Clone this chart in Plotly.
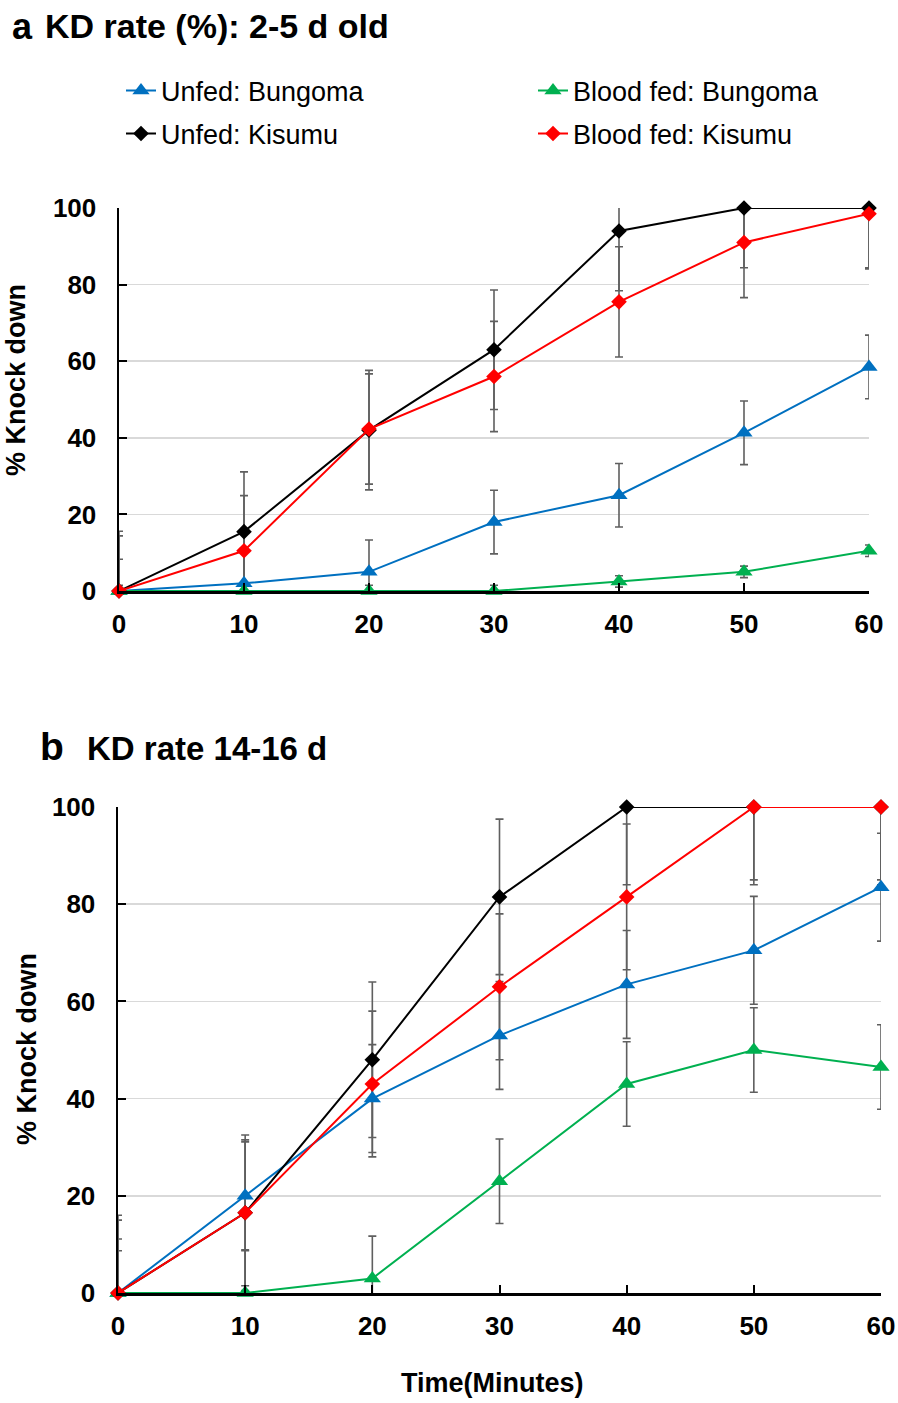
import plotly.graph_objects as go

W, H = 898, 1403

time_min = [0, 10, 20, 30, 40, 50, 60]

# Panel a: 2-5 d old
a_unfed_bungoma = [0, 2, 5, 18, 25, 41.3, 58.5]
a_fed_bungoma = [0, 0, 0, 0, 2.5, 5, 10.5]
a_unfed_kisumu = [0, 15.5, 42, 63, 94, 100, 100]
a_fed_kisumu = [0, 10.5, 42.3, 56, 75.5, 91, 98.5]
a_err_unfed_bungoma = [8.3] * 7
a_err_fed_bungoma = [1.5] * 7
a_err_unfed_kisumu = [15.6] * 7
a_err_fed_kisumu = [14.4] * 7

# Panel b: 14-16 d old
b_unfed_bungoma = [0, 20, 40, 53, 63.5, 70.5, 83.5]
b_fed_bungoma = [0, 0, 3, 23, 43, 50, 46.5]
b_unfed_kisumu = [0, 16.5, 48, 81.5, 100, 100, 100]
b_fed_kisumu = [0, 16.5, 43, 63, 81.5, 100, 100]
b_err_unfed_bungoma = [11.1] * 7
b_err_fed_bungoma = [8.7] * 7
b_err_unfed_kisumu = [16.0] * 7
b_err_fed_kisumu = [15.0] * 7

series_names = ["Unfed: Bungoma", "Blood fed: Bungoma", "Unfed: Kisumu", "Blood fed: Kisumu"]
colors = ["#0070C0", "#00B050", "#000000", "#FF0000"]
symbols = ["triangle-up", "triangle-up", "diamond", "diamond"]
sizes = [15, 15, 12, 12]
legend_ids = ["legend", "legend2", "legend3", "legend4"]

FONT = "Liberation Sans, Arial, sans-serif"
ERR_COLOR = "#5F5F5F"

fig = go.Figure()

panels = [
    ("x", "y", [a_unfed_bungoma, a_fed_bungoma, a_unfed_kisumu, a_fed_kisumu],
     [a_err_unfed_bungoma, a_err_fed_bungoma, a_err_unfed_kisumu, a_err_fed_kisumu], True),
    ("x2", "y2", [b_unfed_bungoma, b_fed_bungoma, b_unfed_kisumu, b_fed_kisumu],
     [b_err_unfed_bungoma, b_err_fed_bungoma, b_err_unfed_kisumu, b_err_fed_kisumu], False),
]

for xa, ya, vals, errs, show in panels:
    # error bars first (clipped to the plot area)
    for i in range(4):
        fig.add_trace(go.Scatter(
            x=time_min, y=vals[i], mode="markers", xaxis=xa, yaxis=ya,
            marker=dict(size=1, opacity=0),
            error_y=dict(type="data", array=errs[i], visible=True,
                         color=ERR_COLOR, thickness=1.6, width=4),
            showlegend=False, hoverinfo="skip", cliponaxis=True))
    for i in range(4):
        fig.add_trace(go.Scatter(
            x=time_min, y=vals[i], mode="lines+markers", xaxis=xa, yaxis=ya,
            name=series_names[i],
            line=dict(color=colors[i], width=2),
            marker=dict(symbol=symbols[i], size=sizes[i], color=colors[i]),
            showlegend=show, legend=legend_ids[i], cliponaxis=False))


def px_x(p):
    return p / W


def px_y(p):
    return 1 - p / H


TICKFONT = dict(family=FONT, size=26, color="black", weight="bold")
axis_common = dict(
    range=[0, 60], tickvals=time_min, ticks="inside", ticklen=8, tickwidth=2,
    tickcolor="black", showline=True, linecolor="black", linewidth=2.5,
    showgrid=False, zeroline=False, tickfont=TICKFONT, ticklabelstandoff=8,
    automargin=False,
)
yaxis_common = dict(
    range=[0, 100], tickvals=[0, 20, 40, 60, 80, 100], ticks="inside", ticklen=8,
    tickwidth=2, tickcolor="black", showline=True, linecolor="black", linewidth=2.5,
    showgrid=True, gridcolor="#D9D9D9", gridwidth=1.5, zeroline=False,
    tickfont=TICKFONT, ticklabelstandoff=15, automargin=False,
)

LEGFONT = dict(family=FONT, size=27, color="black")
leg_pos = {  # (left px, row center px)
    "legend": (121, 91), "legend2": (533, 91),
    "legend3": (121, 134), "legend4": (533, 134),
}
leg_layout = {}
for lid, (lx, ly) in leg_pos.items():
    leg_layout[lid] = dict(
        x=px_x(lx), y=px_y(ly), xanchor="left", yanchor="middle",
        font=LEGFONT, bgcolor="rgba(0,0,0,0)", borderwidth=0,
        itemclick=False, itemdoubleclick=False, itemwidth=30)

fig.update_layout(
    width=W, height=H, autosize=False,
    margin=dict(l=0, r=0, t=0, b=0, pad=0, autoexpand=False),
    paper_bgcolor="white", plot_bgcolor="white",
    font=dict(family=FONT, color="black"),
    xaxis=dict(axis_common, domain=[px_x(119), px_x(869)], anchor="y"),
    yaxis=dict(yaxis_common, domain=[px_y(591), px_y(208)], anchor="x"),
    xaxis2=dict(axis_common, domain=[px_x(118), px_x(881)], anchor="y2"),
    yaxis2=dict(yaxis_common, domain=[px_y(1293), px_y(807)], anchor="x2"),
    showlegend=True,
    **leg_layout,
)

annotations = [
    dict(text="<b>a</b>", x=px_x(10), y=px_y(26), xanchor="left", yanchor="middle",
         font=dict(family=FONT, size=36, color="black")),
    dict(text="<b>KD rate (%): 2-5 d old</b>", x=px_x(43), y=px_y(26), xanchor="left", yanchor="middle",
         font=dict(family=FONT, size=34, color="black")),
    dict(text="<b>b</b>", x=px_x(38), y=px_y(746), xanchor="left", yanchor="middle",
         font=dict(family=FONT, size=39, color="black")),
    dict(text="<b>KD rate 14-16 d</b>", x=px_x(85), y=px_y(748), xanchor="left", yanchor="middle",
         font=dict(family=FONT, size=33, color="black")),
    dict(text="<b>% Knock down</b>", x=px_x(16), y=px_y(380), xanchor="center", yanchor="middle",
         textangle=-90, font=dict(family=FONT, size=27, color="black")),
    dict(text="<b>% Knock down</b>", x=px_x(27), y=px_y(1049), xanchor="center", yanchor="middle",
         textangle=-90, font=dict(family=FONT, size=27, color="black")),
    dict(text="<b>Time(Minutes)</b>", x=px_x(492), y=px_y(1383), xanchor="center", yanchor="middle",
         font=dict(family=FONT, size=27, color="black")),
]
for a in annotations:
    a.update(xref="paper", yref="paper", showarrow=False)
fig.update_layout(annotations=annotations)

fig.write_html(
    "out.html",
    config={"displayModeBar": False, "staticPlot": True},
    post_script="document.body.style.margin='0';document.body.style.overflow='hidden';",
)
